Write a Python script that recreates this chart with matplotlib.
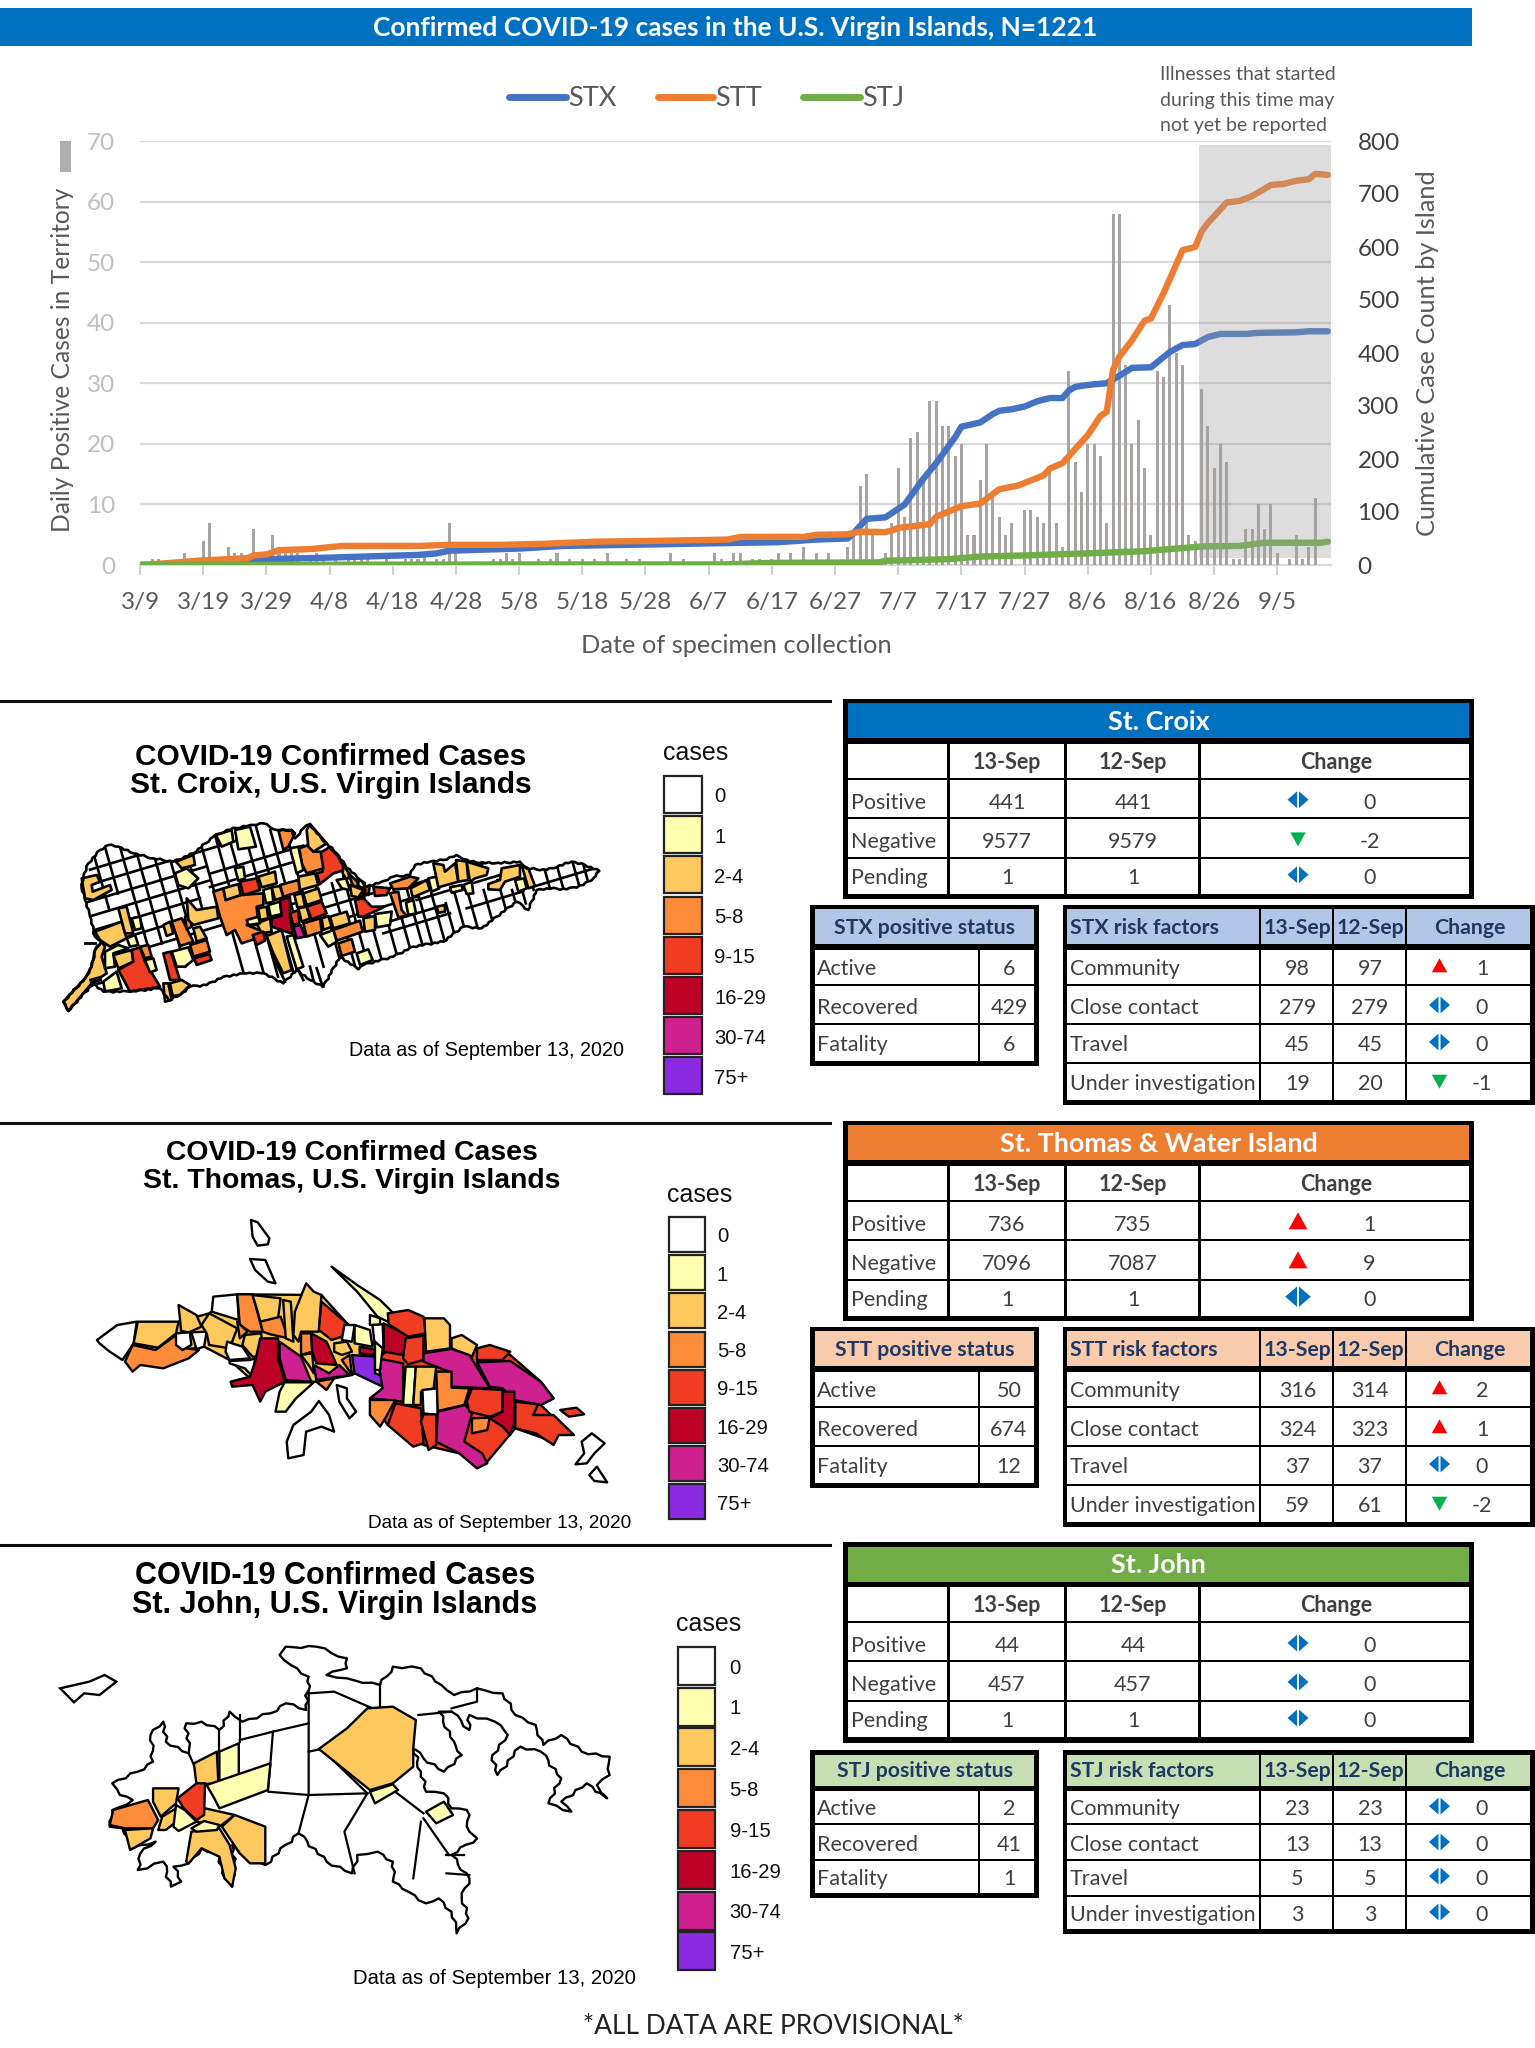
import matplotlib
matplotlib.use('Agg')
import numpy as np
import matplotlib.pyplot as plt
from matplotlib.patches import Rectangle, Polygon

plt.rcParams['font.family'] = ['Lato', 'DejaVu Sans']

# ---- epi curve data ----
tick_labels = ['3/9', '3/19', '3/29', '4/8', '4/18', '4/28', '5/8', '5/18', '5/28', '6/7',
               '6/17', '6/27', '7/7', '7/17', '7/27', '8/6', '8/16', '8/26', '9/5']
daily = [0, 0, 1, 1, 0, 0, 0, 2, 1, 0,
         4, 7, 0, 0, 3, 2, 2, 0, 6, 0,
         0, 5, 3, 2, 2, 2, 0, 1, 2, 1,
         0, 1, 0, 1, 1, 1, 1, 0, 0, 1,
         0, 0, 1, 1, 1, 2, 0, 1, 1, 7,
         2, 0, 0, 0, 0, 0, 1, 1, 2, 1,
         2, 0, 0, 1, 0, 1, 2, 0, 1, 0,
         1, 0, 1, 0, 2, 0, 0, 1, 0, 1,
         0, 0, 0, 0, 2, 0, 1, 0, 0, 0,
         0, 2, 1, 0, 2, 2, 0, 1, 1, 0,
         1, 2, 0, 2, 0, 3, 0, 2, 0, 2,
         0, 0, 3, 5, 13, 15, 5, 0, 2, 7,
         16, 8, 21, 22, 14, 27, 27, 23, 23, 18,
         20, 5, 5, 14, 20, 12, 8, 5, 7, 0,
         9, 9, 8, 7, 16, 7, 3, 32, 17, 12,
         20, 20, 18, 7, 58, 58, 33, 20, 24, 16,
         5, 32, 31, 43, 35, 33, 5, 4, 29, 23,
         16, 20, 17, 1, 1, 6, 6, 10, 6, 10,
         2, 0, 1, 5, 1, 3, 11, 0, 0]

stx_days = [0, 10, 14, 20, 30, 44, 47, 49, 60, 67, 82, 91, 101, 107, 112, 113, 115, 118, 121, 124, 126, 129, 130, 133,
            135, 136, 138, 140, 142, 144, 146, 147, 148, 149, 151, 153, 155, 157, 160, 163, 165, 167, 169, 171, 175, 177, 183, 185, 188]
stx_vals = [0, 2, 9, 11, 14, 19, 22, 27, 31, 36, 39, 41, 43, 48, 50, 61, 87, 90, 114, 163, 192, 241, 261, 269,
            285, 291, 294, 299, 309, 315, 315, 329, 336, 338, 341, 343, 357, 372, 373, 402, 415, 417, 430, 436, 436, 438, 439, 441, 441]
stt_days = [0, 5, 9, 17, 18, 20, 22, 27, 32, 44, 49, 57, 64, 72, 84, 93, 95, 105, 107, 112, 114, 118, 119, 120, 125, 126,
            130, 133, 136, 139, 143, 144, 146, 150, 152, 153, 154, 155, 157, 159, 160, 162, 165, 167, 168, 169, 172, 174, 176, 179, 181, 183, 185, 186, 188]
stt_vals = [0, 4, 8, 13, 18, 20, 28, 30, 36, 36, 38, 38, 40, 44, 46, 48, 53, 53, 57, 58, 63, 62, 65, 70, 77, 91,
            111, 116, 143, 150, 169, 182, 192, 245, 281, 289, 368, 393, 424, 461, 465, 513, 594, 600, 629, 645, 684, 687, 696, 717, 719, 725, 728, 738, 736]
stj_days = [0, 60, 92, 100, 117, 118, 128, 133, 140, 150, 159, 164, 168, 174, 178, 187, 188]
stj_vals = [0, 1, 1, 4, 5, 8, 11, 16, 18, 22, 26, 31, 35, 36, 42, 42, 44]

# ---- tables ----
top_labels = ['Positive', 'Negative', 'Pending']
status_labels = ['Active', 'Recovered', 'Fatality']
risk_labels = ['Community', 'Close contact', 'Travel', 'Under investigation']

stx_top = [[441, 441, 0], [9577, 9579, -2], [1, 1, 0]]
stt_top = [[736, 735, 1], [7096, 7087, 9], [1, 1, 0]]
stj_top = [[44, 44, 0], [457, 457, 0], [1, 1, 0]]
stx_status = [6, 429, 6]
stt_status = [50, 674, 12]
stj_status = [2, 41, 1]
stx_risk = [[98, 97, 1], [279, 279, 0], [45, 45, 0], [19, 20, -1]]
stt_risk = [[316, 314, 2], [324, 323, 1], [37, 37, 0], [59, 61, -2]]
stj_risk = [[23, 23, 0], [13, 13, 0], [5, 5, 0], [3, 3, 0]]

case_bins = ['0', '1', '2-4', '5-8', '9-15', '16-29', '30-74', '75+']
bin_colors = ['#ffffff', '#ffffb2', '#fdc95f', '#fd8b3a', '#f03c22', '#bd0026', '#cf2090', '#8a2be2']

# ---- map shapes, traced in zoomed picture units: (bin, points) ----
croix_outline = [(55, 603), (40, 575), (105, 505), (125, 470), (135, 420), (155, 395), (135, 380), (120, 320), (105, 270), (95, 235),
                 (100, 200), (115, 160), (150, 120), (175, 105), (205, 110), (250, 130), (310, 145), (370, 155), (430, 130), (490, 80),
                 (530, 60), (600, 45), (640, 40), (680, 60), (725, 60), (735, 85), (760, 55), (780, 42), (800, 70), (830, 100),
                 (860, 130), (885, 165), (920, 200), (950, 230), (995, 215), (1030, 200), (1080, 195), (1095, 165), (1140, 155), (1180, 150),
                 (1220, 135), (1260, 155), (1335, 160), (1410, 155), (1430, 175), (1490, 180), (1565, 155), (1605, 165), (1648, 183), (1630, 205),
                 (1600, 225), (1550, 238), (1490, 235), (1460, 240), (1435, 300), (1400, 275), (1340, 320), (1295, 355), (1240, 350), (1180, 395),
                 (1090, 410), (1030, 440), (940, 465), (925, 478), (870, 440), (820, 530), (780, 510), (740, 480), (700, 520), (640, 490),
                 (590, 490), (520, 500), (470, 525), (420, 530), (390, 555), (355, 570), (330, 535), (240, 545), (160, 545), (130, 520)]
croix_road_a = [(185, 120, 470), (230, 100, 560), (280, 105, 470), (325, 115, 480), (370, 130, 450), (420, 230, 480), (470, 300, 520),
                (305, 480, 760), (345, 480, 800), (420, 520, 820), (470, 700, 1050), (510, 780, 1100), (560, 800, 1100), (610, 900, 1150),
                (640, 1000, 1200), (520, 1050, 1300), (570, 1100, 1400), (640, 1250, 1420), (635, 1450, 1640)]
croix_road_b = [(150, 100, 300), (190, 100, 250), (235, 100, 420), (280, 130, 400), (330, 140, 470), (375, 150, 340), (430, 130, 300),
                (480, 90, 350), (500, 330, 530), (530, 60, 260), (570, 50, 240), (560, 330, 500), (620, 40, 200), (600, 360, 500),
                (660, 40, 260), (650, 380, 490), (700, 60, 370), (745, 100, 470), (790, 120, 330), (800, 340, 500), (840, 220, 520),
                (880, 200, 470), (925, 180, 470), (975, 330, 470), (1020, 240, 440), (1060, 240, 420), (1090, 260, 410), (1130, 250, 410),
                (1165, 280, 400), (1200, 230, 380), (1240, 240, 350), (1290, 240, 355), (1340, 210, 320), (1375, 240, 300), (1405, 180, 280),
                (1440, 180, 240), (1490, 170, 240), (1530, 165, 235), (1580, 155, 235), (1610, 165, 225)]
croix_spikes = [[(665, 430), (705, 515)], [(745, 480), (760, 510)], [(780, 470), (790, 510)], [(800, 475), (818, 530)], [(105, 400), (135, 400)],
                [(122, 510), (150, 502)], [(124, 518), (152, 510)], [(126, 526), (154, 518)]]
croix_polys = [
    (2, [(95, 205), (140, 195), (150, 215), (125, 225), (128, 245), (180, 225), (185, 240), (130, 270), (105, 265)]),
    (2, [(55, 603), (40, 575), (105, 505), (125, 470), (135, 420), (155, 395), (165, 410), (155, 440), (170, 490), (125, 520)]),
    (1, [(165, 425), (205, 405), (235, 415), (190, 430), (195, 470), (165, 475)]),
    (2, [(190, 435), (245, 420), (250, 455), (205, 475)]),
    (1, [(160, 515), (200, 485), (215, 535), (165, 545)]),
    (2, [(135, 365), (215, 335), (230, 385), (180, 410), (150, 390)]),
    (2, [(205, 295), (230, 290), (250, 370), (225, 370)]),
    (1, [(245, 325), (270, 320), (275, 355), (255, 360)]),
    (1, [(230, 385), (255, 375), (265, 405), (240, 410)]),
    (4, [(245, 420), (270, 412), (285, 455), (330, 530), (240, 545), (205, 480), (250, 455)]),
    (3, [(270, 410), (295, 405), (305, 440), (285, 445)]),
    (1, [(285, 450), (310, 445), (320, 480), (300, 487)]),
    (4, [(340, 430), (362, 425), (390, 510), (360, 510)]),
    (2, [(340, 520), (355, 520), (365, 570), (345, 575)]),
    (2, [(360, 520), (395, 510), (420, 525), (390, 555), (368, 558)]),
    (1, [(365, 425), (415, 412), (430, 450), (405, 470), (380, 470)]),
    (3, [(365, 335), (395, 325), (430, 395), (390, 408)]),
    (3, [(405, 320), (420, 315), (425, 350), (410, 358)]),
    (2, [(340, 345), (360, 335), (370, 370), (350, 378)]),
    (2, [(430, 355), (450, 350), (470, 385), (440, 395)]),
    (3, [(420, 405), (470, 390), (480, 425), (430, 440)]),
    (4, [(432, 445), (478, 432), (485, 450), (440, 465)]),
    (2, [(410, 265), (440, 300), (500, 290), (505, 325), (430, 345), (415, 330)]),
    (1, [(375, 190), (410, 175), (445, 205), (415, 235), (385, 225)]),
    (2, [(378, 155), (430, 135), (435, 165), (395, 175)]),
    (3, [(490, 245), (520, 235), (527, 270), (572, 255), (640, 250), (640, 285), (620, 290), (625, 345), (590, 345), (640, 365),
         (620, 385), (575, 400), (555, 360), (530, 375), (510, 320)]),
    (2, [(520, 235), (565, 222), (572, 255), (527, 270)]),
    (4, [(570, 215), (620, 205), (630, 240), (580, 255)]),
    (2, [(625, 200), (675, 185), (680, 220), (635, 232)]),
    (3, [(690, 225), (745, 210), (750, 245), (700, 260)]),
    (2, [(745, 200), (795, 190), (805, 225), (750, 240)]),
    (2, [(760, 250), (805, 235), (815, 270), (770, 285)]),
    (1, [(640, 240), (665, 232), (670, 275), (648, 280)]),
    (2, [(665, 232), (690, 228), (700, 262), (675, 270)]),
    (2, [(733, 255), (757, 250), (765, 290), (742, 292)]),
    (1, [(655, 285), (690, 275), (695, 312), (662, 320)]),
    (2, [(625, 295), (650, 290), (655, 325), (630, 330)]),
    (2, [(620, 340), (660, 325), (665, 365), (635, 370)]),
    (1, [(590, 330), (625, 320), (630, 340), (595, 345)]),
    (4, [(608, 375), (640, 365), (645, 392), (620, 405)]),
    (5, [(690, 270), (720, 262), (720, 320), (728, 372), (700, 362), (665, 350), (665, 325), (695, 318)]),
    (4, [(720, 310), (745, 300), (748, 340), (730, 345)]),
    (2, [(745, 295), (770, 290), (780, 325), (755, 335)]),
    (4, [(770, 290), (815, 275), (830, 310), (785, 328)]),
    (6, [(730, 350), (752, 345), (765, 380), (740, 385)]),
    (3, [(760, 340), (810, 325), (815, 365), (770, 380)]),
    (2, [(815, 325), (835, 318), (845, 350), (820, 360)]),
    (2, [(840, 320), (890, 305), (900, 340), (850, 355)]),
    (3, [(850, 360), (930, 332), (938, 365), (860, 392)]),
    (1, [(810, 375), (850, 360), (860, 395), (835, 410)]),
    (2, [(650, 378), (695, 360), (725, 480), (700, 490), (670, 430)]),
    (1, [(710, 380), (730, 375), (760, 470), (740, 478)]),
    (3, [(865, 400), (905, 387), (915, 425), (875, 438)]),
    (1, [(920, 430), (955, 418), (968, 450), (930, 465)]),
    (1, [(975, 312), (1025, 305), (1020, 345), (980, 352)]),
    (2, [(940, 325), (975, 318), (975, 360), (945, 365)]),
    (4, [(915, 270), (940, 265), (965, 290), (1005, 290), (940, 320), (925, 320)]),
    (4, [(808, 130), (838, 112), (865, 140), (885, 180), (850, 190), (810, 222), (800, 190), (818, 185)]),
    (3, [(748, 115), (775, 105), (790, 125), (812, 125), (820, 175), (770, 190), (755, 160)]),
    (2, [(770, 60), (780, 42), (830, 100), (790, 125), (775, 110)]),
    (3, [(685, 60), (725, 60), (735, 70), (715, 110), (700, 120)]),
    (1, [(720, 115), (745, 110), (760, 180), (740, 190)]),
    (1, [(498, 75), (545, 60), (550, 95), (515, 110)]),
    (1, [(555, 60), (600, 50), (618, 110), (565, 118)]),
    (1, [(555, 175), (580, 170), (585, 205), (565, 212)]),
    (2, [(880, 165), (900, 195), (890, 210), (878, 190)]),
    (3, [(895, 190), (922, 215), (925, 235), (908, 225)]),
    (1, [(925, 205), (945, 220), (940, 235), (925, 228)]),
    (1, [(860, 210), (888, 205), (900, 240), (875, 235)]),
    (2, [(900, 225), (940, 240), (925, 262), (905, 258)]),
    (4, [(945, 232), (960, 225), (955, 255), (945, 250)]),
    (4, [(970, 230), (1020, 235), (1010, 255), (975, 258)]),
    (3, [(1020, 220), (1080, 200), (1105, 205), (1075, 235), (1030, 238)]),
    (3, [(1020, 250), (1045, 245), (1055, 300), (1070, 318), (1045, 322)]),
    (1, [(1068, 278), (1090, 270), (1098, 310), (1075, 315)]),
    (2, [(1082, 235), (1130, 210), (1140, 240), (1088, 262)]),
    (1, [(1135, 205), (1160, 200), (1168, 235), (1145, 245)]),
    (2, [(1160, 290), (1185, 285), (1185, 305), (1165, 308)]),
    (2, [(1150, 160), (1180, 165), (1185, 185), (1215, 160), (1225, 215), (1165, 232)]),
    (2, [(1218, 150), (1250, 155), (1255, 210), (1225, 215)]),
    (2, [(1250, 155), (1315, 175), (1310, 195), (1275, 205), (1260, 215)]),
    (1, [(1200, 232), (1235, 225), (1238, 240), (1205, 248)]),
    (1, [(1240, 225), (1265, 215), (1270, 250), (1250, 252)]),
    (2, [(1355, 175), (1410, 165), (1410, 200), (1365, 215), (1350, 240), (1315, 238), (1315, 222), (1350, 210)]),
    (1, [(1395, 210), (1422, 205), (1430, 235), (1405, 245)]),
    (2, [(1415, 165), (1435, 175), (1455, 228), (1435, 235)]),
]

thomas_polys = [
    # backing pieces so the body has no gaps
    (4, [(740, 700), (790, 640), (835, 625), (885, 670), (935, 670), (1000, 690), (1060, 770), (1085, 820), (1060, 840), (1100, 900),
         (1085, 950), (1010, 910), (955, 1010), (900, 985), (830, 960), (760, 900), (725, 825), (750, 790)]),
    (2, [(262, 655), (350, 590), (410, 565), (465, 508), (630, 510), (680, 595), (735, 660), (740, 700), (690, 750), (620, 770),
         (558, 772), (510, 800), (490, 760), (450, 705), (400, 665), (360, 675), (310, 668)]),
    (0, [(492, 285), (505, 292), (528, 340), (525, 358), (505, 362), (495, 335)]),
    (0, [(490, 402), (520, 405), (530, 440), (540, 475), (525, 470), (500, 435)]),
    (0, [(660, 780), (680, 790), (680, 820), (698, 860), (685, 880), (665, 830)]),
    (0, [(625, 828), (645, 870), (655, 920), (630, 905), (600, 920), (595, 990), (565, 1000), (562, 950), (575, 900), (610, 860)]),
    (0, [(1160, 925), (1185, 955), (1165, 985), (1150, 1015), (1128, 1018), (1145, 985), (1140, 950)]),
    (0, [(1170, 1025), (1190, 1072), (1165, 1068), (1155, 1050)]),
    (1, [(650, 425), (700, 480), (745, 525), (768, 560), (760, 590), (740, 575), (700, 500)]),
    (0, [(190, 645), (230, 600), (268, 590), (262, 655), (240, 705), (215, 680), (195, 655)]),
    (2, [(270, 590), (350, 590), (345, 625), (310, 668), (262, 655)]),
    (3, [(260, 660), (305, 675), (345, 630), (365, 670), (390, 675), (370, 700), (320, 730), (275, 720), (260, 740), (245, 710)]),
    (2, [(350, 540), (385, 570), (395, 605), (370, 622), (355, 618)]),
    (0, [(345, 625), (372, 622), (375, 660), (358, 675), (345, 660)]),
    (0, [(375, 622), (405, 620), (400, 665), (385, 672)]),
    (2, [(395, 600), (410, 565), (465, 610), (450, 670), (410, 660), (405, 625)]),
    (0, [(418, 515), (465, 508), (468, 585), (415, 560)]),
    (3, [(465, 508), (495, 508), (515, 620), (490, 620), (470, 600)]),
    (3, [(465, 590), (485, 620), (470, 640)]),
    (2, [(480, 630), (512, 625), (515, 695), (495, 695), (475, 660)]),
    (0, [(445, 650), (475, 665), (490, 700), (450, 705), (442, 680)]),
    (0, [(450, 708), (490, 705), (500, 700), (495, 755), (480, 730), (450, 715)]),
    (2, [(495, 510), (550, 520), (545, 580), (510, 590), (505, 560)]),
    (3, [(510, 590), (550, 575), (565, 640), (530, 628), (515, 620)]),
    (2, [(555, 525), (570, 530), (575, 650), (560, 640)]),
    (2, [(578, 560), (600, 475), (615, 500), (630, 510), (625, 620), (590, 620), (585, 650), (575, 630)]),
    (3, [(590, 625), (610, 625), (612, 680), (590, 690)]),
    (4, [(630, 530), (680, 595), (670, 635), (650, 645), (625, 615)]),
    (5, [(510, 640), (545, 640), (545, 700), (558, 770), (520, 800), (510, 830), (495, 780), (455, 785), (452, 770), (490, 755), (500, 710)]),
    (6, [(548, 650), (590, 695), (610, 770), (560, 765), (548, 700)]),
    (2, [(590, 690), (612, 685), (615, 745), (605, 720)]),
    (5, [(610, 625), (640, 650), (660, 720), (620, 715), (612, 680)]),
    (6, [(615, 720), (645, 745), (665, 720), (685, 750), (620, 765)]),
    (3, [(620, 770), (655, 760), (640, 795)]),
    (1, [(558, 772), (615, 772), (580, 820), (560, 860), (540, 860), (548, 800)]),
    (2, [(655, 655), (680, 650), (690, 680), (670, 690), (655, 680)]),
    (5, [(705, 665), (738, 675), (730, 690), (705, 685)]),
    (3, [(670, 705), (685, 690), (690, 750)]),
    (7, [(690, 690), (735, 695), (735, 745), (765, 760), (750, 785), (695, 745)]),
    (0, [(675, 600), (695, 600), (690, 650), (670, 645)]),
    (1, [(695, 600), (725, 615), (730, 665), (695, 655)]),
    (1, [(725, 570), (745, 580), (745, 600), (725, 600)]),
    (0, [(730, 600), (750, 598), (752, 670), (735, 668)]),
    (5, [(752, 595), (790, 625), (800, 630), (790, 690), (752, 680)]),
    (4, [(760, 565), (800, 555), (830, 575), (835, 625), (800, 635), (762, 598)]),
    (4, [(795, 640), (830, 632), (830, 705), (800, 718), (790, 700)]),
    (2, [(832, 580), (870, 580), (882, 600), (882, 670), (835, 680)]),
    (2, [(885, 640), (905, 630), (935, 660), (925, 695), (885, 670)]),
    (4, [(935, 670), (960, 660), (1000, 680), (985, 705), (935, 705)]),
    (6, [(830, 685), (885, 672), (920, 690), (960, 790), (885, 785), (880, 740), (830, 710)]),
    (6, [(935, 712), (1000, 708), (1060, 770), (1085, 820), (1060, 840), (1008, 825), (985, 790), (960, 785)]),
    (6, [(740, 700), (790, 715), (790, 830), (725, 820), (750, 790)]),
    (1, [(735, 650), (750, 670), (745, 735), (735, 735)]),
    (1, [(795, 725), (815, 725), (810, 840), (790, 840)]),
    (2, [(815, 725), (855, 725), (850, 790), (825, 800), (825, 840), (810, 840)]),
    (0, [(828, 795), (858, 790), (858, 870), (830, 865)]),
    (3, [(855, 740), (885, 740), (885, 788), (920, 790), (910, 840), (858, 858)]),
    (3, [(725, 825), (775, 825), (755, 880), (745, 905), (725, 870)]),
    (4, [(775, 835), (825, 850), (830, 955), (810, 965), (760, 900)]),
    (4, [(830, 868), (855, 868), (855, 960), (840, 975), (825, 890)]),
    (6, [(858, 860), (912, 840), (925, 865), (910, 950), (945, 985), (955, 1015), (935, 1030), (900, 985), (855, 950)]),
    (4, [(925, 790), (985, 795), (985, 860), (960, 875), (920, 860), (915, 830)]),
    (3, [(925, 880), (960, 878), (955, 915), (925, 925)]),
    (5, [(985, 800), (1008, 800), (1008, 895), (1000, 930), (985, 905), (960, 880), (985, 860)]),
    (4, [(1010, 830), (1055, 838), (1045, 870), (1085, 870), (1125, 930), (1095, 930), (1085, 960), (1050, 925), (1010, 910)]),
    (4, [(1098, 855), (1130, 848), (1145, 868), (1115, 875)]),
]

john_island = [(118, 430), (175, 410), (205, 390), (228, 410), (195, 450), (165, 445), (145, 472)]
john_outline = [(215, 845), (220, 795), (260, 765), (235, 750), (220, 715), (270, 680), (300, 650), (295, 570), (320, 530), (325, 590),
                (370, 625), (365, 535), (395, 530), (430, 555), (450, 500), (475, 530), (530, 505), (560, 475), (600, 495), (605, 395),
                (570, 360), (548, 330), (560, 305), (620, 305), (680, 340), (680, 370), (640, 390), (680, 400), (745, 420), (770, 365),
                (825, 370), (865, 420), (890, 450), (935, 430), (985, 445), (1010, 510), (1050, 540), (1065, 600), (1100, 570), (1140, 620),
                (1195, 635), (1195, 690), (1170, 720), (1190, 760), (1150, 715), (1100, 770), (1120, 800), (1075, 775), (1100, 700), (1060, 620),
                (1020, 605), (975, 690), (965, 630), (995, 570), (970, 530), (920, 510), (920, 555), (885, 500), (860, 500), (890, 590),
                (905, 630), (870, 680), (830, 640), (810, 610), (825, 680), (835, 740), (870, 745), (885, 790), (915, 795), (920, 860),
                (935, 880), (885, 930), (920, 1000), (905, 1060), (918, 1120), (895, 1165), (885, 1100), (860, 1060), (835, 1075), (800, 1040),
                (770, 1010), (770, 950), (740, 920), (700, 930), (690, 985), (640, 950), (585, 865), (520, 960), (490, 950), (470, 925),
                (455, 900), (460, 970), (455, 1025), (440, 1000), (430, 935), (395, 910), (370, 955), (340, 965), (355, 1010), (335, 1025),
                (320, 950), (270, 975), (275, 925), (305, 890), (260, 910), (240, 850)]
john_roads = [[(605, 440), (605, 750), (585, 865)], [(605, 535), (535, 560), (470, 585)], [(535, 560), (530, 655), (525, 740), (605, 750), (720, 745)],
              [(605, 620), (630, 612), (720, 745)], [(605, 445), (655, 440), (730, 490)], [(745, 420), (745, 490)], [(720, 745), (675, 860), (695, 985)],
              [(770, 735), (830, 805)], [(830, 820), (880, 930)], [(825, 830), (810, 1000)], [(885, 500), (820, 510)], [(935, 430), (935, 470), (885, 490)],
              [(875, 930), (910, 930)], [(875, 985), (920, 990)], [(370, 625), (380, 660)], [(430, 555), (430, 625)], [(470, 510), (470, 590)]]
john_polys = [
    (2, [(625, 612), (680, 550), (720, 490), (770, 485), (815, 525), (810, 610), (810, 665), (770, 715), (725, 735)]),
    (1, [(725, 740), (770, 718), (780, 735), (735, 775)]),
    (1, [(835, 800), (870, 770), (888, 810), (855, 835)]),
    (2, [(380, 655), (425, 620), (428, 715), (385, 718)]),
    (1, [(430, 620), (468, 595), (468, 690), (430, 712)]),
    (1, [(405, 720), (530, 655), (525, 735), (430, 790), (420, 760)]),
    (3, [(222, 795), (290, 765), (310, 825), (300, 850), (245, 850), (215, 840)]),
    (2, [(245, 855), (300, 850), (295, 880), (255, 915)]),
    (2, [(300, 730), (350, 730), (345, 775), (315, 815), (300, 770)]),
    (2, [(318, 815), (345, 790), (350, 825), (325, 855), (310, 855)]),
    (1, [(345, 780), (362, 795), (385, 830), (350, 858), (340, 845)]),
    (2, [(402, 790), (460, 810), (430, 845), (385, 830)]),
    (2, [(375, 860), (430, 850), (450, 900), (462, 970), (455, 1025), (440, 1000), (430, 935), (395, 910), (370, 955), (365, 950)]),
    (2, [(460, 810), (520, 845), (520, 955), (490, 955), (470, 925), (450, 880), (435, 845)]),
    (1, [(375, 850), (400, 828), (430, 840), (425, 855), (385, 860)]),
    (4, [(348, 760), (385, 715), (402, 715), (400, 810), (385, 825), (360, 790)]),
]


def croix_xy(pts):
    return [(50 + x / 3, 810 + y / 3) for x, y in pts]


def thomas_xy(pts):
    return [(x / 1.96, 1125 + y / 3) for x, y in pts]


def john_xy(pts):
    return [(x / 1.96, 1545 + y / 3) for x, y in pts]


def rough(pts, step=7.0, amp=1.1):
    # jagged coast: break the traced edges up and zigzag them a little
    out = []
    zig = [1, -0.5, 0.7, -1, 0.4]
    k = 0
    closed = list(pts) + [pts[0]]
    for (xa, ya), (xb, yb) in zip(closed[:-1], closed[1:]):
        n = max(1, int(np.hypot(xb - xa, yb - ya) / step))
        for i in range(n):
            t = i / n
            off = 0 if i == 0 else amp * zig[k % 5]
            k += 1
            nx, ny = -(yb - ya), xb - xa
            ln = np.hypot(nx, ny) or 1
            out.append((xa + (xb - xa) * t + off * nx / ln, ya + (yb - ya) * t + off * ny / ln))
    return out


fig = plt.figure(figsize=(15.35, 20.48), dpi=100)

# ---- chart ----
ax = fig.add_axes([140 / 1535, 1 - 565 / 2048, (1331 - 140) / 1535, (565 - 141) / 2048])
days = np.arange(len(daily))
ax.bar(days, daily, width=0.48, color='#a8a4a4', zorder=3)
ax.set_xlim(0, 188.5)
ax.set_ylim(0, 70)
ax.set_yticks(range(0, 71, 10))
ax.set_xticks(range(0, 181, 10))
ax.set_xticklabels(tick_labels)
ax.grid(axis='y', color='#d9d9d9', linewidth=1.6, zorder=0)
ax.set_axisbelow(True)
for s in ['top', 'left', 'right']:
    ax.spines[s].set_visible(False)
ax.spines['bottom'].set_color('#d9d9d9')
ax.spines['bottom'].set_linewidth(1.6)
ax.tick_params(axis='x', length=7, width=1.4, color='#d0d0d0', labelsize=17.5, labelcolor='#595959', pad=12.5)
ax.tick_params(axis='y', length=0, labelsize=17.5, labelcolor='#bfbfbf', pad=18)
ax.set_ylabel('Daily Positive Cases in Territory', fontsize=17.7, color='#595959')
ax.yaxis.set_label_coords((74 - 140) / 1191, (565 - 360) / 424)
ax.set_xlabel('Date of specimen collection', fontsize=18.3, color='#595959')
ax.xaxis.set_label_coords((736 - 140) / 1191, -(634 - 565) / 424)

ax2 = ax.twinx()
ax2.plot(stx_days, stx_vals, color='#4472c4', lw=4.6, solid_capstyle='round', zorder=4)
ax2.plot(stt_days, stt_vals, color='#ed7d31', lw=4.6, solid_capstyle='round', zorder=5)
ax2.plot(stj_days, stj_vals, color='#70ad47', lw=4.6, solid_capstyle='round', zorder=6)
ax2.set_ylim(0, 800)
ax2.set_yticks(range(0, 801, 100))
for s in ['top', 'left', 'right', 'bottom']:
    ax2.spines[s].set_visible(False)
ax2.tick_params(axis='y', length=0, labelsize=17.5, labelcolor='#404040', pad=19)
ax2.set_ylabel('Cumulative Case Count by Island', fontsize=18.2, color='#595959')
ax2.yaxis.set_label_coords((1416 - 140) / 1191, (565 - 353) / 424)

# ---- everything else is placed in picture pixels ----
ov = fig.add_axes([0, 0, 1, 1], zorder=5)
ov.set_xlim(0, 1535)
ov.set_ylim(2048, 0)
ov.axis('off')
ov.patch.set_alpha(0)


def box(x0, y0, x1, y1, fc, **kw):
    ov.add_patch(Rectangle((x0, y0), x1 - x0, y1 - y0, fc=fc, ec='none', **kw))


box(0, 8, 1472, 46, '#0070c0')
ov.text(735, 28, 'Confirmed COVID-19 cases in the U.S. Virgin Islands, N=1221', color='white',
        fontsize=19, fontweight='bold', ha='center', va='center')

# shaded "not yet reported" block and its note
box(1199, 145, 1331, 558, '#a0a0a0', alpha=0.35)
for i, t in enumerate(['Illnesses that started', 'during this time may', 'not yet be reported']):
    ov.text(1160, 75 + i * 25.5, t, fontsize=14, color='#595959', va='center')

box(60, 141, 71, 172, '#b0adad')
for x0, x1, c, t in [(509, 566, '#4472c4', 'STX'), (658, 713, '#ed7d31', 'STT'), (803, 860, '#70ad47', 'STJ')]:
    ov.plot([x0, x1], [97, 97], color=c, lw=5, solid_capstyle='round')
    ov.text(x1 + 2, 98.5, t, fontsize=19.5, color='#595959', va='center')

for y in [701, 1123, 1545]:
    ov.plot([0, 830], [y, y], color='#111111', lw=2.2)


def arrow(x, y, change, size):
    if change > 0:
        ov.add_patch(Polygon([(x - size * .55, y + size * .45), (x + size * .55, y + size * .45), (x, y - size * .55)], fc='#ff0000', ec='none'))
    elif change < 0:
        ov.add_patch(Polygon([(x - size * .55, y - size * .45), (x + size * .55, y - size * .45), (x, y + size * .55)], fc='#00b050', ec='none'))
    else:
        ov.add_patch(Polygon([(x - 1, y - size * .6), (x - 1, y + size * .6), (x - size * .75, y)], fc='#0070c0', ec='none'))
        ov.add_patch(Polygon([(x + 1, y - size * .6), (x + 1, y + size * .6), (x + size * .75, y)], fc='#0070c0', ec='none'))


TXT = '#404040'
HEAD = '#1f3864'
FS = 15.5


def top_table(y0, title, color, rows, asize=14):
    box(843, y0, 1474, y0 + 200.6, 'black')
    box(848, y0 + 4.7, 1469, y0 + 39.5, color)
    ov.text(1158.6, y0 + 23, title, color='white', fontsize=19.4, fontweight='bold', ha='center', va='center')
    bounds = [44, 80.3, 119.3, 159, 196.3]
    for i in range(4):
        for xa, xb in [(848, 947), (949.5, 1064), (1066.5, 1198), (1200.5, 1469)]:
            box(xa, y0 + bounds[i] + 1, xb, y0 + bounds[i + 1] - 1, 'white')
    ov.text(1007, y0 + 64, '13-Sep', fontsize=FS, fontweight='bold', color=TXT, ha='center', va='center')
    ov.text(1133, y0 + 64, '12-Sep', fontsize=FS, fontweight='bold', color=TXT, ha='center', va='center')
    ov.text(1336, y0 + 64, 'Change', fontsize=FS, fontweight='bold', color=TXT, ha='center', va='center')
    for lab, row, ty in zip(top_labels, rows, [104, 143, 179]):
        ov.text(850.6, y0 + ty, lab, fontsize=FS, color=TXT, va='center')
        ov.text(1007, y0 + ty, str(row[0]), fontsize=FS, color=TXT, ha='center', va='center')
        ov.text(1133, y0 + ty, str(row[1]), fontsize=FS, color=TXT, ha='center', va='center')
        ov.text(1369.6, y0 + ty, str(row[2]), fontsize=FS, color=TXT, ha='center', va='center')
        arrow(1298, y0 + ty - 3, row[2], asize)


def status_table(y0, title, color, vals, s=1.0):
    box(810, y0, 1039, y0 + 161.3 * s, 'black')
    box(815, y0 + 4.7, 1034, y0 + 39.3 * s, color)
    ov.text(925, y0 + 23 * s, title, color=HEAD, fontsize=15.3, fontweight='bold', ha='center', va='center')
    bounds = [44, 80.6, 119.6, 157]
    for i in range(3):
        for xa, xb in [(815, 978), (980, 1034)]:
            box(xa, y0 + bounds[i] * s + 1, xb, y0 + bounds[i + 1] * s - 1, 'white')
    for lab, v, ty in zip(status_labels, vals, [64.3, 103.3, 140.3]):
        ov.text(817, y0 + ty * s, lab, fontsize=FS, color=TXT, va='center')
        ov.text(1009, y0 + ty * s, str(v), fontsize=FS, color=TXT, ha='center', va='center')


def risk_table(y0, title, color, rows, s=1.0):
    box(1062.5, y0, 1535, y0 + 200.3 * s, 'black')
    cols = [(1067, 1258.5), (1260.5, 1331.5), (1333.5, 1404.5), (1406.5, 1530)]
    for xa, xb in cols:
        box(xa, y0 + 4.7, xb, y0 + 39.3 * s, color)
    ov.text(1069.6, y0 + 23 * s, title, color=HEAD, fontsize=15.3, fontweight='bold', va='center')
    for xc, t in [(1297.4, '13-Sep'), (1370, '12-Sep'), (1470, 'Change')]:
        ov.text(xc, y0 + 23 * s, t, color=HEAD, fontsize=15.3, fontweight='bold', ha='center', va='center')
    bounds = [44, 80.6, 119.6, 158.6, 196]
    for i in range(4):
        for xa, xb in cols:
            box(xa, y0 + bounds[i] * s + 1, xb, y0 + bounds[i + 1] * s - 1, 'white')
    for lab, row, ty in zip(risk_labels, rows, [64.3, 103.3, 140.3, 179.3]):
        ov.text(1069.6, y0 + ty * s, lab, fontsize=FS, color=TXT, va='center')
        ov.text(1297.4, y0 + ty * s, str(row[0]), fontsize=FS, color=TXT, ha='center', va='center')
        ov.text(1370, y0 + ty * s, str(row[1]), fontsize=FS, color=TXT, ha='center', va='center')
        ov.text(1482, y0 + ty * s, str(row[2]), fontsize=FS, color=TXT, ha='center', va='center')
        arrow(1439.5, y0 + ty * s - 3, row[2], 14)


top_table(698.7, 'St. Croix', '#0070c0', stx_top)
status_table(904.7, 'STX positive status', '#b4c6e7', stx_status)
risk_table(904.7, 'STX risk factors', '#b4c6e7', stx_risk)

top_table(1120.7, 'St. Thomas & Water Island', '#ed7d31', stt_top, asize=17)
status_table(1326.7, 'STT positive status', '#f8cbad', stt_status)
risk_table(1326.7, 'STT risk factors', '#f8cbad', stt_risk)

top_table(1542, 'St. John', '#70ad47', stj_top)
status_table(1750, 'STJ positive status', '#c6e0b4', stj_status, s=0.92)
risk_table(1750, 'STJ risk factors', '#c6e0b4', stj_risk, s=0.92)


# ---- maps ----
def map_text(cx, y1, y2, tsize, place, data_x, data_y, dsize, cases_x, cases_y, bx0, bx1, by, step, bh, lx):
    ar = 'Liberation Sans'
    ov.text(cx, y1, 'COVID-19 Confirmed Cases', family=ar, fontsize=tsize, fontweight='bold', color='black', ha='center', va='center')
    ov.text(cx, y2, place + ', U.S. Virgin Islands', family=ar, fontsize=tsize, fontweight='bold', color='black', ha='center', va='center')
    ov.text(data_x, data_y, 'Data as of September 13, 2020', family=ar, fontsize=dsize, color='black', va='center')
    ov.text(cases_x, cases_y, 'cases', family=ar, fontsize=18, color='#111111', ha='center', va='center')
    for i, (lab, c) in enumerate(zip(case_bins, bin_colors)):
        ov.add_patch(Rectangle((bx0, by + i * step), bx1 - bx0, bh, fc=c, ec='#222222', lw=1.6))
        ov.text(lx, by + i * step + bh / 2 + 2.5, lab, family=ar, fontsize=14.6, color='#111111', va='center')


def draw_polys(polys, tf, lw=1.7):
    for b, pts in polys:
        ov.add_patch(Polygon(tf(pts), fc=bin_colors[b], ec='black', lw=lw, joinstyle='round', zorder=3))


# St. Croix: white base with roads clipped to the coast, shaded estates on top
croix_coast = rough(croix_outline, step=9, amp=2.5)
croix_base = Polygon(croix_xy(croix_coast), fc='white', ec='none', zorder=2)
ov.add_patch(croix_base)
for c, xa, xb in croix_road_a:
    pts = croix_xy([(xa, c - 0.3 * (xa - 100)), (xb, c - 0.3 * (xb - 100))])
    l, = ov.plot(*zip(*pts), color='black', lw=1.9, zorder=2.5)
    l.set_clip_path(croix_base)
for c, ya, yb in croix_road_b:
    pts = croix_xy([(c + 0.28 * (ya - 200), ya), (c + 0.28 * (yb - 200), yb)])
    l, = ov.plot(*zip(*pts), color='black', lw=1.9, zorder=2.5)
    l.set_clip_path(croix_base)
draw_polys(croix_polys, croix_xy, lw=1.9)
for seg in croix_spikes:
    ov.plot(*zip(*croix_xy(seg)), color='black', lw=2, zorder=4)
ov.add_patch(Polygon(croix_xy(croix_coast), fc='none', ec='black', lw=1.9, joinstyle='round', zorder=4))
map_text(331, 757, 785, 21.5, 'St. Croix', 349, 1050.5, 14.2, 696, 753, 664, 701.5, 776, 40.2, 37, 714)

# St. Thomas
draw_polys(thomas_polys, thomas_xy)
map_text(352, 1153.5, 1181.5, 20.4, 'St. Thomas', 368, 1523.5, 13.7, 700, 1195, 669, 704.6, 1217, 38.2, 35, 717)

# St. John
ov.add_patch(Polygon(john_xy(john_island), fc='white', ec='black', lw=1.7, zorder=3))
ov.add_patch(Polygon(john_xy(rough(john_outline, step=14, amp=4)), fc='white', ec='black', lw=1.7, joinstyle='round', zorder=2))
for road in john_roads:
    ov.plot(*zip(*john_xy(road)), color='black', lw=1.6, zorder=2.5)
draw_polys(john_polys, john_xy)
map_text(335, 1576, 1605, 22, 'St. John', 353, 1978, 14.7, 709, 1624, 677.5, 715, 1646.7, 40.8, 38, 729.6)

ov.text(773, 2027, '*ALL DATA ARE PROVISIONAL*', fontsize=19, color='#222222', ha='center', va='center')

fig.savefig('out.png', dpi=100)
